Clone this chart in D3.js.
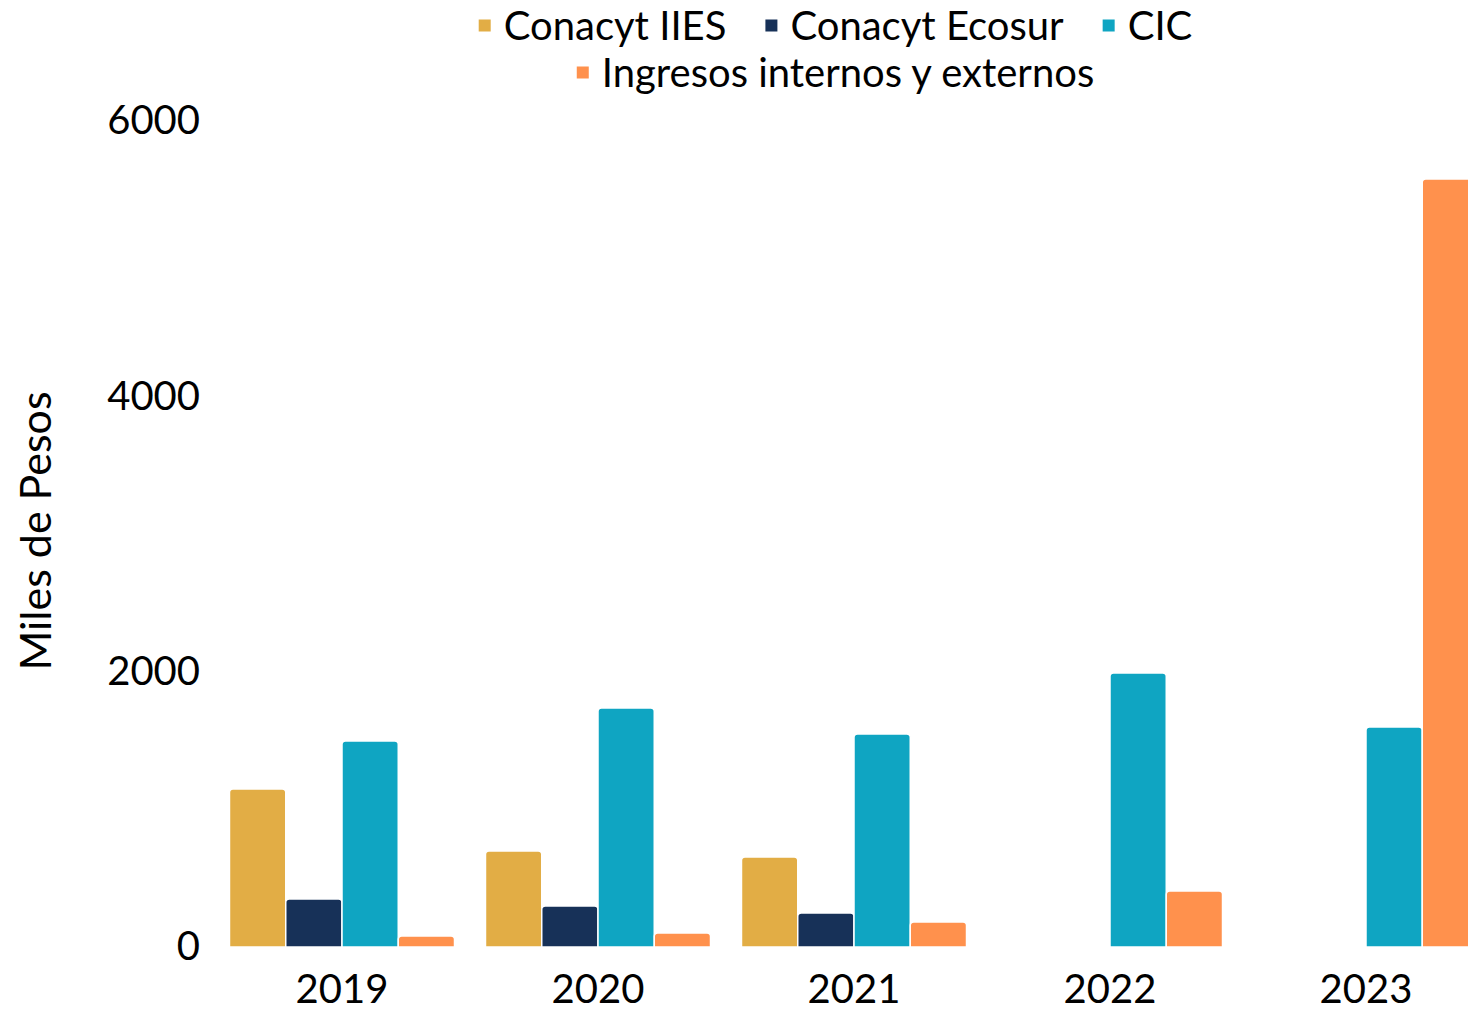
<!DOCTYPE html>
<html><head><meta charset="utf-8">
<script src="https://cdn.jsdelivr.net/npm/d3@7"></script>
<style>body{margin:0;background:#fff}svg{display:block;font-family:Lato,sans-serif}</style>
</head><body>
<svg id="c" width="1468" height="1012"></svg>
<script>
const years = ["2019","2020","2021","2022","2023"];
const seriesNames = ["Conacyt IIES","Conacyt Ecosur","CIC","Ingresos internos y externos"];
const conacytIIES   = [1148, 697, 654, null, null];
const conacytEcosur = [349, 298, 247, null, null];
const cic           = [1496, 1736, 1547, 1990, 1598];
const ingresos      = [80, 102, 182, 407, 5579];
const yTicks = [0, 2000, 4000, 6000];
const colors = ["#E2AD45","#173158","#0FA5C2","#FF914D"];

const seriesValues = [conacytIIES, conacytEcosur, cic, ingresos];
const svg = d3.select("#c");
const x = d3.scaleBand().domain(years).range([214, 1494]).paddingInner(0.121).paddingOuter(0.0605);
const xs = d3.scaleBand().domain(seriesNames).range([0, x.bandwidth()]);
const y = d3.scaleLinear().domain([0, 6000]).range([947, 121]);

function barPath(x0, w, y0, y1, r) {
  r = Math.min(r, (y1 - y0), w / 2);
  return `M${x0},${y1}V${y0 + r}Q${x0},${y0} ${x0 + r},${y0}H${x0 + w - r}Q${x0 + w},${y0} ${x0 + w},${y0 + r}V${y1}Z`;
}

const g = svg.append("g");
seriesNames.forEach((s, si) => {
  years.forEach((yr, i) => {
    const v = seriesValues[si][i];
    if (v == null) return;
    g.append("path")
      .attr("d", barPath(x(yr) + xs(s), xs.bandwidth(), y(v), y(0), 3.5))
      .attr("fill", colors[si])
      .attr("stroke", "#fff").attr("stroke-width", 1.5);
  });
});

// y axis labels
const yAxis = d3.axisLeft(y).tickValues(yTicks).tickSize(0).tickPadding(0).tickFormat(d3.format("d"));
const ya = svg.append("g").attr("transform", "translate(200,0)").call(yAxis);
ya.select(".domain").remove();
ya.selectAll("text").attr("font-size", 40).attr("font-family", "Lato").attr("fill", "#000");

// x axis labels
const xAxis = d3.axisBottom(x).tickSize(0).tickPadding(0);
const xa = svg.append("g").attr("transform", "translate(0,975)").call(xAxis);
xa.select(".domain").remove();
xa.selectAll("text").attr("font-size", 40).attr("font-family", "Lato").attr("fill", "#000");

// y title
svg.append("text").attr("transform", "translate(51,531) rotate(-90)")
  .attr("text-anchor", "middle").attr("font-size", 43).attr("fill", "#000").text("Miles de Pesos");

// legend
const rows = [[0,1,2],[3]];
const rowY = [40, 87];
rows.forEach((row, ri) => {
  const lg = svg.append("g");
  let cx = 0;
  row.forEach((si, k) => {
    const it = lg.append("g").attr("transform", `translate(${cx},0)`);
    it.append("rect").attr("x", 0).attr("y", rowY[ri] - 20.5).attr("width", 12).attr("height", 12).attr("fill", colors[si]);
    const t = it.append("text").attr("x", 25).attr("y", rowY[ri]).attr("font-size", 40).attr("fill", "#000").text(seriesNames[si]);
    cx += 25 + t.node().getComputedTextLength() + 39;
  });
  const w = cx - 39;
  lg.attr("transform", `translate(${835.5 - w / 2},0)`);
});
</script>
</body></html>
